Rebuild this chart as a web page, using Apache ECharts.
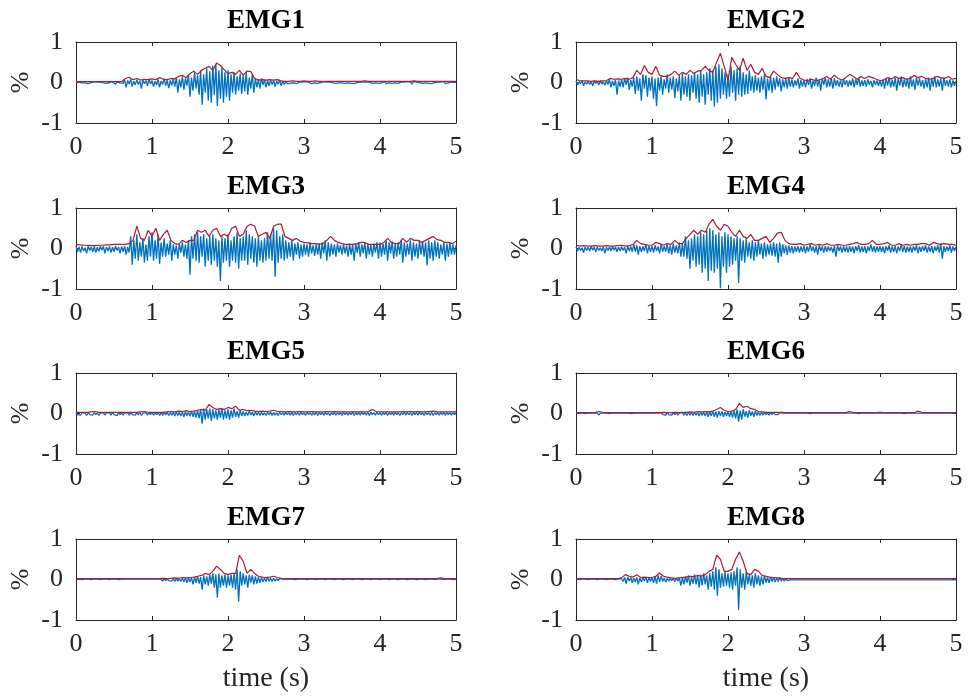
<!DOCTYPE html>
<html>
<head>
<meta charset="utf-8">
<script src="https://cdn.jsdelivr.net/npm/echarts@6/dist/echarts.min.js"></script>
<style>
html, body { margin: 0; padding: 0; background: #ffffff; }
#chart { width: 968px; height: 698px; }
</style>
</head>
<body>
<div id="chart"></div>
<script>
// Eight EMG channels, 0–5 s. Raw signal sampled every 0.02 s, envelope every 0.05 s.
const channelNames = ['EMG1', 'EMG2', 'EMG3', 'EMG4', 'EMG5', 'EMG6', 'EMG7', 'EMG8'];
const rawStep = 0.02;
const envStep = 0.05;
const xTicks = [0, 1, 2, 3, 4, 5];
const yTicks = [-1, 0, 1];

const emg1Raw = [
  0.01,-0.02,0.01,0.00,-0.01,0.02,-0.01,0.01,-0.03,0.01,
  0.00,-0.01,0.02,-0.01,0.01,-0.02,0.01,0.00,-0.01,0.01,
  -0.02,0.01,0.00,-0.01,0.02,-0.01,-0.04,0.01,0.00,-0.01,
  0.01,-0.02,0.06,-0.12,0.05,-0.04,0.08,-0.1,0.03,-0.06,
  0.07,-0.05,0.04,-0.15,0.06,-0.03,0.05,-0.08,0.09,-0.04,
  0.05,-0.1,0.03,-0.06,0.08,-0.12,0.04,-0.05,0.1,-0.08,
  0.06,-0.14,0.05,-0.07,0.09,-0.1,0.12,-0.25,0.08,-0.12,
  0.15,-0.18,0.1,-0.08,0.2,-0.35,0.12,-0.2,0.25,-0.15,
  0.18,-0.3,0.3,-0.55,0.2,-0.25,0.35,-0.45,0.28,-0.5,
  0.42,-0.3,0.45,-0.58,0.3,-0.4,0.38,-0.5,0.25,-0.35,
  0.3,-0.45,0.2,-0.25,0.25,-0.3,0.15,-0.2,0.22,-0.28,
  0.18,-0.22,0.25,-0.3,0.12,-0.15,0.2,-0.25,0.1,-0.12,
  0.08,-0.15,0.1,-0.06,0.07,-0.12,0.05,-0.08,0.06,-0.05,
  0.05,-0.1,0.04,-0.04,0.06,-0.08,0.03,-0.05,0.02,-0.03,
  0.01,-0.02,0.02,-0.01,0.01,-0.03,0.00,0.01,-0.02,0.01,
  -0.01,0.02,-0.02,0.01,0.00,-0.03,0.01,-0.01,0.01,-0.02,
  0.01,0.00,-0.01,0.02,-0.02,0.01,-0.03,0.01,0.00,-0.01,
  0.01,-0.02,0.01,-0.01,0.02,-0.01,0.00,-0.02,0.01,-0.01,
  0.02,-0.02,0.01,-0.03,0.01,0.00,-0.01,0.01,-0.02,0.01,
  -0.01,0.01,-0.03,0.01,0.00,-0.02,0.02,-0.01,0.01,-0.02,
  0.01,-0.01,0.00,0.02,-0.03,0.01,-0.01,0.01,-0.02,0.01,
  -0.01,0.01,-0.02,0.00,0.01,-0.03,0.01,-0.01,0.02,-0.01,
  0.01,-0.04,0.02,-0.01,0.01,-0.02,0.00,0.01,-0.02,0.01,
  -0.01,0.02,-0.02,0.01,-0.03,0.01,0.00,-0.01,0.01,-0.02,
  0.01,-0.01,0.02,-0.03,0.01,-0.01,0.00,0.01,-0.02,0.01,
  0.00
];
const emg1Env = [
  0.02,0.02,0.02,0.02,0.02,0.02,0.02,0.02,0.02,0.02,0.02,0.02,0.02,0.1,0.13,0.07,0.1,0.06,0.08,0.07,
  0.09,0.07,0.12,0.08,0.07,0.1,0.09,0.15,0.18,0.12,0.22,0.28,0.2,0.3,0.35,0.4,0.3,0.48,0.42,0.32,
  0.22,0.25,0.2,0.3,0.18,0.28,0.27,0.1,0.06,0.07,0.06,0.07,0.06,0.07,0.04,0.03,0.03,0.04,0.03,0.03,
  0.04,0.03,0.03,0.04,0.03,0.03,0.03,0.03,0.03,0.03,0.03,0.03,0.03,0.03,0.03,0.03,0.04,0.03,0.03,0.03,
  0.03,0.03,0.03,0.03,0.03,0.03,0.03,0.03,0.03,0.04,0.03,0.03,0.03,0.03,0.03,0.03,0.03,0.03,0.03,0.03,0.03
];

const emg2Raw = [
  0.04,-0.06,0.02,-0.03,0.05,-0.08,0.01,-0.04,0.03,-0.05,
  0.02,-0.08,0.04,-0.02,0.03,-0.06,0.05,-0.04,0.02,-0.07,
  0.05,-0.05,0.08,-0.12,0.04,-0.08,0.06,-0.3,0.05,-0.1,
  0.08,-0.12,0.1,-0.06,0.12,-0.18,0.06,-0.1,0.12,-0.28,
  0.15,-0.2,0.1,-0.45,0.2,-0.15,0.18,-0.35,0.12,-0.2,
  0.15,-0.4,0.1,-0.58,0.12,-0.2,0.15,-0.3,0.08,-0.15,
  0.2,-0.25,0.12,-0.18,0.15,-0.38,0.1,-0.22,0.18,-0.45,
  0.22,-0.3,0.15,-0.35,0.2,-0.45,0.18,-0.25,0.25,-0.4,
  0.2,-0.5,0.3,-0.35,0.2,-0.55,0.25,-0.3,0.35,-0.45,
  0.3,-0.6,0.4,-0.5,0.45,-0.4,0.35,-0.3,0.25,-0.4,
  0.2,-0.35,0.4,-0.25,0.3,-0.45,0.35,-0.3,0.4,-0.35,
  0.25,-0.3,0.2,-0.28,0.3,-0.2,0.15,-0.25,0.18,-0.2,
  0.12,-0.25,0.15,-0.18,0.2,-0.42,0.1,-0.2,0.15,-0.25,
  0.12,-0.18,0.15,-0.1,0.1,-0.22,0.08,-0.12,0.1,-0.15,
  0.12,-0.1,0.08,-0.12,0.05,-0.08,0.1,-0.15,0.06,-0.1,
  0.06,-0.12,0.08,-0.06,0.1,-0.15,0.05,-0.08,0.12,-0.1,
  0.08,-0.2,0.1,-0.06,0.12,-0.12,0.08,-0.1,0.1,-0.15,
  0.1,-0.08,0.06,-0.1,0.05,-0.12,0.08,-0.06,0.06,-0.1,
  0.05,-0.08,0.1,-0.12,0.08,-0.06,0.12,-0.1,0.05,-0.08,
  0.06,-0.1,0.08,-0.05,0.04,-0.12,0.06,-0.06,0.05,-0.08,
  0.05,-0.1,0.08,-0.15,0.1,-0.08,0.12,-0.12,0.06,-0.1,
  0.12,-0.2,0.1,-0.08,0.15,-0.12,0.08,-0.1,0.1,-0.15,
  0.15,-0.1,0.08,-0.18,0.12,-0.08,0.1,-0.1,0.06,-0.15,
  0.08,-0.12,0.12,-0.2,0.1,-0.1,0.15,-0.12,0.08,-0.1,
  0.1,-0.2,0.12,-0.08,0.06,-0.1,0.08,-0.12,0.05,-0.08,
  0.04
];
const emg2Env = [
  0.07,0.05,0.04,0.04,0.03,0.04,0.03,0.04,0.05,0.1,0.08,0.09,0.08,0.1,0.08,0.12,0.3,0.2,0.42,0.25,
  0.2,0.4,0.18,0.15,0.15,0.2,0.28,0.18,0.25,0.2,0.3,0.22,0.28,0.3,0.4,0.3,0.25,0.5,0.72,0.4,
  0.05,0.62,0.45,0.3,0.6,0.3,0.45,0.25,0.2,0.35,0.15,0.12,0.28,0.2,0.12,0.1,0.12,0.1,0.25,0.1,
  0.06,0.05,0.08,0.05,0.06,0.1,0.15,0.08,0.18,0.1,0.06,0.12,0.2,0.15,0.08,0.15,0.1,0.15,0.12,0.08,
  0.05,0.06,0.12,0.08,0.15,0.1,0.12,0.08,0.1,0.18,0.12,0.15,0.1,0.08,0.1,0.15,0.12,0.1,0.15,0.08,0.1
];

const emg3Raw = [
  0.06,-0.08,0.04,-0.1,0.05,-0.06,0.02,-0.12,0.06,-0.05,
  0.04,-0.08,0.05,-0.1,0.03,-0.07,0.06,-0.04,0.05,-0.12,
  0.04,-0.06,0.05,-0.1,0.03,-0.08,0.06,-0.05,0.04,-0.12,
  0.05,-0.08,0.06,-0.15,0.04,-0.1,0.3,-0.4,0.2,-0.25,
  0.35,-0.3,0.15,-0.2,0.25,-0.35,0.1,-0.3,0.3,-0.2,
  0.4,-0.3,0.2,-0.25,0.35,-0.38,0.15,-0.2,0.25,-0.2,
  0.12,-0.15,0.2,-0.3,0.1,-0.15,0.08,-0.25,0.12,-0.1,
  0.15,-0.2,0.1,-0.25,0.2,-0.65,0.3,-0.25,0.35,-0.3,
  0.4,-0.35,0.3,-0.2,0.35,-0.45,0.25,-0.3,0.3,-0.4,
  0.35,-0.3,0.25,-0.45,0.2,-0.8,0.3,-0.35,0.25,-0.3,
  0.35,-0.45,0.2,-0.3,0.3,-0.35,0.4,-0.5,0.25,-0.3,
  0.3,-0.3,0.45,-0.4,0.35,-0.25,0.3,-0.35,0.25,-0.45,
  0.3,-0.3,0.2,-0.35,0.25,-0.3,0.4,-0.25,0.35,-0.3,
  0.5,-0.7,0.45,-0.35,0.3,-0.25,0.35,-0.3,0.2,-0.25,
  0.15,-0.2,0.2,-0.3,0.12,-0.15,0.15,-0.25,0.1,-0.2,
  0.12,-0.15,0.1,-0.2,0.15,-0.12,0.08,-0.18,0.1,-0.15,
  0.12,-0.25,0.15,-0.12,0.2,-0.3,0.15,-0.2,0.12,-0.15,
  0.1,-0.2,0.12,-0.1,0.08,-0.15,0.1,-0.12,0.08,-0.2,
  0.12,-0.15,0.1,-0.3,0.12,-0.1,0.15,-0.2,0.1,-0.12,
  0.15,-0.25,0.12,-0.15,0.1,-0.2,0.12,-0.1,0.15,-0.25,
  0.15,-0.2,0.12,-0.15,0.2,-0.3,0.15,-0.12,0.18,-0.25,
  0.12,-0.2,0.15,-0.15,0.2,-0.35,0.15,-0.2,0.12,-0.15,
  0.2,-0.3,0.15,-0.2,0.12,-0.25,0.2,-0.15,0.18,-0.2,
  0.15,-0.42,0.2,-0.25,0.15,-0.3,0.2,-0.2,0.15,-0.25,
  0.1,-0.15,0.15,-0.3,0.12,-0.2,0.15,-0.15,0.1,-0.15,
  0.08
];
const emg3Env = [
  0.1,0.09,0.08,0.08,0.07,0.07,0.08,0.08,0.09,0.09,0.1,0.1,0.1,0.1,0.12,0.2,0.55,0.25,0.2,0.45,
  0.3,0.5,0.2,0.35,0.45,0.2,0.12,0.1,0.2,0.15,0.2,0.2,0.45,0.4,0.45,0.3,0.45,0.5,0.3,0.35,
  0.3,0.5,0.55,0.3,0.35,0.55,0.6,0.55,0.3,0.35,0.4,0.25,0.55,0.6,0.6,0.3,0.25,0.2,0.25,0.18,
  0.15,0.14,0.12,0.12,0.1,0.12,0.2,0.3,0.2,0.15,0.12,0.1,0.1,0.1,0.12,0.15,0.15,0.1,0.1,0.1,
  0.1,0.15,0.25,0.15,0.12,0.12,0.25,0.15,0.25,0.2,0.2,0.15,0.2,0.25,0.3,0.22,0.2,0.15,0.15,0.12,0.18
];

const emg4Raw = [
  0.04,-0.06,0.03,-0.05,0.02,-0.1,0.04,-0.05,0.03,-0.06,
  0.05,-0.04,0.03,-0.08,0.04,-0.05,0.02,-0.06,0.04,-0.12,
  0.03,-0.05,0.04,-0.06,0.05,-0.04,0.03,-0.08,0.04,-0.06,
  0.05,-0.05,0.03,-0.12,0.06,-0.06,0.05,-0.08,0.1,-0.08,
  0.08,-0.15,0.06,-0.08,0.05,-0.06,0.1,-0.12,0.06,-0.08,
  0.06,-0.1,0.08,-0.06,0.05,-0.12,0.1,-0.08,0.06,-0.08,
  0.1,-0.12,0.08,-0.15,0.12,-0.1,0.08,-0.12,0.15,-0.2,
  0.12,-0.2,0.3,-0.25,0.2,-0.5,0.25,-0.3,0.35,-0.45,
  0.3,-0.4,0.4,-0.6,0.35,-0.5,0.45,-0.8,0.5,-0.55,
  0.45,-0.6,0.35,-0.5,0.4,-0.98,0.3,-0.45,0.4,-0.6,
  0.35,-0.45,0.3,-0.4,0.25,-0.3,0.3,-0.85,0.25,-0.3,
  0.2,-0.35,0.25,-0.2,0.15,-0.25,0.2,-0.3,0.15,-0.2,
  0.2,-0.15,0.12,-0.25,0.15,-0.2,0.1,-0.15,0.12,-0.18,
  0.15,-0.2,0.12,-0.35,0.15,-0.2,0.1,-0.12,0.08,-0.15,
  0.08,-0.1,0.06,-0.12,0.05,-0.08,0.06,-0.1,0.05,-0.08,
  0.06,-0.12,0.05,-0.08,0.1,-0.06,0.05,-0.1,0.06,-0.15,
  0.08,-0.06,0.05,-0.1,0.06,-0.08,0.05,-0.06,0.04,-0.1,
  0.06,-0.2,0.08,-0.06,0.05,-0.1,0.06,-0.08,0.05,-0.1,
  0.06,-0.08,0.05,-0.12,0.06,-0.06,0.08,-0.1,0.05,-0.08,
  0.06,-0.12,0.05,-0.06,0.1,-0.08,0.06,-0.1,0.05,-0.08,
  0.06,-0.08,0.05,-0.12,0.06,-0.06,0.08,-0.1,0.05,-0.08,
  0.06,-0.12,0.05,-0.06,0.1,-0.08,0.06,-0.1,0.05,-0.08,
  0.05,-0.1,0.06,-0.06,0.08,-0.12,0.05,-0.08,0.06,-0.06,
  0.08,-0.1,0.05,-0.08,0.06,-0.12,0.05,-0.06,0.08,-0.1,
  0.12,-0.25,0.06,-0.08,0.05,-0.06,0.08,-0.1,0.05,-0.06,
  0.04
];
const emg4Env = [
  0.08,0.06,0.07,0.06,0.06,0.07,0.06,0.06,0.07,0.06,0.06,0.07,0.08,0.06,0.07,0.1,0.2,0.12,0.1,0.08,
  0.08,0.15,0.12,0.08,0.12,0.1,0.2,0.12,0.12,0.25,0.35,0.45,0.35,0.45,0.4,0.6,0.72,0.55,0.45,0.6,
  0.55,0.4,0.3,0.45,0.3,0.25,0.35,0.2,0.2,0.25,0.3,0.15,0.25,0.38,0.4,0.2,0.12,0.1,0.1,0.12,
  0.08,0.1,0.12,0.08,0.1,0.08,0.12,0.08,0.08,0.1,0.08,0.08,0.1,0.12,0.15,0.1,0.1,0.12,0.2,0.1,
  0.1,0.12,0.15,0.08,0.08,0.12,0.08,0.1,0.08,0.1,0.1,0.12,0.12,0.08,0.15,0.12,0.1,0.12,0.1,0.1,0.08
];

const emg5Raw = [
  0.02,-0.03,0.01,-0.04,0.02,-0.02,0.01,-0.05,0.02,-0.03,
  0.01,-0.04,0.02,-0.03,0.02,-0.05,0.01,-0.03,0.02,-0.04,
  0.01,-0.03,0.02,-0.04,0.02,-0.03,0.01,-0.05,0.02,-0.03,
  0.02,-0.04,0.01,-0.03,0.02,-0.04,0.02,-0.03,0.01,-0.04,
  0.02,-0.03,0.02,-0.05,0.01,-0.03,0.02,-0.04,0.02,-0.03,
  0.02,-0.04,0.02,-0.03,0.03,-0.05,0.02,-0.04,0.02,-0.03,
  0.03,-0.05,0.02,-0.04,0.03,-0.06,0.04,-0.05,0.03,-0.06,
  0.04,-0.08,0.05,-0.06,0.04,-0.07,0.06,-0.08,0.05,-0.1,
  0.08,-0.12,0.1,-0.25,0.12,-0.15,0.1,-0.12,0.12,-0.18,
  0.1,-0.12,0.08,-0.15,0.1,-0.1,0.12,-0.15,0.08,-0.12,
  0.1,-0.15,0.08,-0.1,0.12,-0.08,0.06,-0.1,0.08,-0.06,
  0.05,-0.06,0.04,-0.05,0.06,-0.04,0.03,-0.06,0.05,-0.04,
  0.03,-0.05,0.04,-0.04,0.02,-0.05,0.03,-0.03,0.04,-0.05,
  0.03,-0.04,0.02,-0.05,0.03,-0.03,0.02,-0.04,0.03,-0.03,
  0.02,-0.04,0.03,-0.05,0.02,-0.03,0.02,-0.04,0.03,-0.03,
  0.02,-0.05,0.03,-0.03,0.02,-0.04,0.02,-0.03,0.03,-0.05,
  0.02,-0.03,0.02,-0.04,0.03,-0.03,0.02,-0.05,0.02,-0.03,
  0.03,-0.04,0.02,-0.03,0.02,-0.05,0.03,-0.03,0.02,-0.04,
  0.02,-0.03,0.03,-0.05,0.02,-0.03,0.02,-0.04,0.03,-0.03,
  0.02,-0.04,0.03,-0.05,0.04,-0.03,0.02,-0.04,0.03,-0.03,
  0.02,-0.04,0.02,-0.03,0.03,-0.05,0.02,-0.03,0.02,-0.04,
  0.03,-0.03,0.02,-0.05,0.02,-0.03,0.03,-0.04,0.02,-0.03,
  0.02,-0.05,0.03,-0.03,0.02,-0.04,0.03,-0.03,0.02,-0.05,
  0.03,-0.03,0.02,-0.04,0.03,-0.05,0.02,-0.03,0.02,-0.04,
  0.02,-0.03,0.03,-0.04,0.02,-0.03,0.02,-0.04,0.02,-0.03,
  0.02
];
const emg5Env = [
  0.03,0.03,0.03,0.03,0.04,0.05,0.03,0.03,0.03,0.03,0.03,0.03,0.03,0.03,0.03,0.03,0.03,0.04,0.05,0.03,
  0.03,0.03,0.03,0.03,0.04,0.05,0.04,0.06,0.05,0.07,0.05,0.06,0.08,0.1,0.08,0.22,0.15,0.1,0.12,0.1,
  0.15,0.12,0.18,0.08,0.1,0.07,0.08,0.06,0.05,0.06,0.05,0.06,0.08,0.05,0.05,0.04,0.05,0.04,0.04,0.05,
  0.04,0.04,0.05,0.04,0.04,0.04,0.05,0.04,0.05,0.04,0.04,0.04,0.04,0.04,0.04,0.04,0.04,0.05,0.1,0.05,
  0.04,0.04,0.04,0.04,0.04,0.04,0.05,0.04,0.05,0.04,0.05,0.04,0.04,0.05,0.06,0.04,0.04,0.04,0.04,0.04,0.04
];

const emg6Raw = [
  0.01,-0.02,0.01,-0.03,0.01,-0.02,0.00,-0.03,0.01,-0.02,
  0.01,-0.03,0.01,-0.02,0.01,-0.04,0.01,-0.02,0.01,-0.03,
  0.01,-0.02,0.00,-0.03,0.01,-0.02,0.01,-0.03,0.01,-0.02,
  0.01,-0.03,0.01,-0.02,0.01,-0.03,0.00,-0.02,0.01,-0.03,
  0.01,-0.02,0.01,-0.03,0.01,-0.02,0.01,-0.03,0.01,-0.02,
  0.01,-0.03,0.01,-0.02,0.01,-0.03,0.02,-0.03,0.01,-0.04,
  0.02,-0.03,0.01,-0.04,0.02,-0.03,0.02,-0.04,0.01,-0.03,
  0.02,-0.04,0.02,-0.05,0.03,-0.04,0.02,-0.05,0.03,-0.04,
  0.03,-0.06,0.04,-0.05,0.03,-0.06,0.04,-0.08,0.05,-0.06,
  0.06,-0.08,0.05,-0.1,0.06,-0.06,0.05,-0.08,0.04,-0.06,
  0.05,-0.08,0.06,-0.1,0.08,-0.12,0.1,-0.2,0.08,-0.15,
  0.1,-0.08,0.06,-0.1,0.08,-0.06,0.05,-0.08,0.06,-0.05,
  0.04,-0.05,0.03,-0.04,0.03,-0.03,0.02,-0.04,0.02,-0.03,
  0.02,-0.03,0.01,-0.03,0.02,-0.02,0.01,-0.03,0.01,-0.02,
  0.01,-0.03,0.01,-0.02,0.01,-0.03,0.01,-0.02,0.01,-0.03,
  0.01,-0.02,0.01,-0.03,0.00,-0.02,0.01,-0.03,0.01,-0.02,
  0.01,-0.03,0.01,-0.02,0.01,-0.03,0.01,-0.02,0.01,-0.03,
  0.01,-0.02,0.01,-0.03,0.01,-0.02,0.01,-0.03,0.01,-0.02,
  0.01,-0.03,0.01,-0.02,0.01,-0.03,0.00,-0.02,0.01,-0.03,
  0.01,-0.02,0.01,-0.03,0.01,-0.02,0.01,-0.03,0.01,-0.02,
  0.01,-0.03,0.01,-0.02,0.01,-0.03,0.01,-0.02,0.01,-0.03,
  0.01,-0.02,0.01,-0.03,0.01,-0.02,0.00,-0.03,0.01,-0.02,
  0.01,-0.03,0.01,-0.02,0.01,-0.03,0.01,-0.02,0.01,-0.03,
  0.01,-0.02,0.01,-0.03,0.01,-0.02,0.01,-0.03,0.01,-0.02,
  0.01,-0.03,0.01,-0.02,0.01,-0.03,0.01,-0.02,0.01,-0.02,
  0.01
];
const emg6Env = [
  0.02,0.02,0.02,0.02,0.02,0.02,0.05,0.03,0.02,0.02,0.02,0.02,0.02,0.02,0.02,0.02,0.02,0.02,0.02,0.02,
  0.02,0.02,0.02,0.03,0.02,0.02,0.03,0.02,0.03,0.03,0.04,0.03,0.05,0.04,0.05,0.04,0.06,0.1,0.15,0.08,
  0.05,0.06,0.1,0.25,0.15,0.18,0.12,0.1,0.05,0.04,0.03,0.03,0.03,0.03,0.03,0.02,0.02,0.02,0.02,0.02,
  0.02,0.02,0.02,0.02,0.02,0.02,0.02,0.02,0.02,0.02,0.02,0.02,0.05,0.02,0.02,0.02,0.02,0.02,0.02,0.02,
  0.03,0.02,0.02,0.02,0.02,0.02,0.02,0.02,0.02,0.02,0.06,0.03,0.02,0.02,0.02,0.02,0.02,0.02,0.02,0.02,0.02
];

const emg7Raw = [
  0.01,-0.01,0.01,-0.01,0.00,-0.01,0.01,-0.01,0.01,-0.01,
  0.00,-0.01,0.01,-0.01,0.01,-0.01,0.00,-0.01,0.01,-0.02,
  0.01,-0.01,0.00,-0.02,0.01,-0.01,0.01,-0.02,0.00,-0.01,
  0.01,-0.03,0.01,-0.01,0.01,-0.02,0.01,-0.03,0.01,-0.02,
  0.01,-0.02,0.01,-0.03,0.01,-0.02,0.01,-0.03,0.01,-0.02,
  0.01,-0.03,0.01,-0.02,0.01,-0.02,0.01,-0.04,0.02,-0.03,
  0.02,-0.03,0.01,-0.04,0.02,-0.05,0.03,-0.04,0.02,-0.05,
  0.03,-0.06,0.04,-0.08,0.05,-0.06,0.04,-0.12,0.06,-0.08,
  0.08,-0.1,0.06,-0.25,0.1,-0.12,0.08,-0.15,0.12,-0.1,
  0.15,-0.2,0.12,-0.45,0.15,-0.2,0.1,-0.15,0.12,-0.2,
  0.1,-0.15,0.12,-0.2,0.15,-0.25,0.25,-0.55,0.2,-0.15,
  0.15,-0.12,0.1,-0.2,0.12,-0.08,0.1,-0.12,0.08,-0.1,
  0.06,-0.08,0.05,-0.06,0.04,-0.05,0.06,-0.04,0.03,-0.05,
  0.03,-0.04,0.02,-0.03,0.02,-0.02,0.01,-0.02,0.01,-0.01,
  0.01,-0.02,0.01,-0.01,0.00,-0.01,0.01,-0.02,0.01,-0.01,
  0.01,-0.01,0.00,-0.02,0.01,-0.01,0.01,-0.01,0.00,-0.02,
  0.01,-0.01,0.01,-0.02,0.00,-0.01,0.01,-0.01,0.01,-0.02,
  0.00,-0.01,0.01,-0.01,0.01,-0.02,0.00,-0.01,0.01,-0.01,
  0.01,-0.02,0.00,-0.01,0.01,-0.01,0.01,-0.02,0.00,-0.01,
  0.01,-0.01,0.01,-0.02,0.00,-0.01,0.01,-0.01,0.01,-0.02,
  0.00,-0.01,0.01,-0.01,0.01,-0.02,0.00,-0.01,0.01,-0.01,
  0.01,-0.02,0.00,-0.01,0.01,-0.01,0.01,-0.02,0.00,-0.01,
  0.01,-0.01,0.01,-0.02,0.00,-0.01,0.01,-0.01,0.01,-0.02,
  0.00,-0.01,0.01,-0.01,0.01,-0.02,0.00,-0.01,0.01,-0.01,
  0.01,-0.02,0.00,-0.01,0.01,-0.01,0.01,-0.02,0.00,-0.01,
  0.01
];
const emg7Env = [
  0.02,0.02,0.02,0.02,0.02,0.02,0.02,0.02,0.02,0.02,0.02,0.02,0.02,0.02,0.02,0.02,0.02,0.02,0.02,0.02,
  0.02,0.02,0.02,0.03,0.02,0.03,0.04,0.03,0.05,0.04,0.05,0.06,0.08,0.1,0.15,0.12,0.2,0.33,0.25,0.15,
  0.12,0.15,0.15,0.6,0.45,0.15,0.25,0.15,0.08,0.06,0.05,0.06,0.08,0.05,0.03,0.02,0.02,0.02,0.02,0.02,
  0.02,0.02,0.02,0.02,0.02,0.02,0.02,0.02,0.02,0.02,0.02,0.02,0.02,0.02,0.02,0.02,0.02,0.02,0.02,0.02,
  0.02,0.02,0.02,0.02,0.02,0.02,0.02,0.02,0.02,0.02,0.02,0.02,0.02,0.02,0.02,0.02,0.04,0.02,0.02,0.02,0.02
];

const emg8Raw = [
  0.01,-0.01,0.00,-0.01,0.01,-0.01,0.01,-0.01,0.00,-0.01,
  0.01,-0.01,0.01,-0.01,0.00,-0.01,0.01,-0.01,0.01,-0.01,
  0.00,-0.01,0.01,-0.01,0.01,-0.01,0.00,-0.01,0.01,-0.02,
  0.02,-0.05,0.05,-0.1,0.06,-0.04,0.05,-0.08,0.04,-0.06,
  0.05,-0.12,0.04,-0.06,0.05,-0.04,0.06,-0.08,0.05,-0.05,
  0.06,-0.08,0.08,-0.1,0.1,-0.06,0.08,-0.05,0.04,-0.06,
  0.03,-0.04,0.03,-0.03,0.02,-0.05,0.03,-0.04,0.04,-0.15,
  0.06,-0.12,0.08,-0.08,0.1,-0.15,0.06,-0.1,0.12,-0.12,
  0.1,-0.2,0.12,-0.15,0.15,-0.12,0.1,-0.25,0.15,-0.18,
  0.2,-0.25,0.3,-0.4,0.25,-0.2,0.15,-0.18,0.2,-0.15,
  0.15,-0.2,0.18,-0.25,0.2,-0.15,0.3,-0.75,0.25,-0.2,
  0.15,-0.25,0.2,-0.12,0.12,-0.15,0.1,-0.2,0.15,-0.12,
  0.1,-0.15,0.08,-0.12,0.1,-0.08,0.05,-0.08,0.06,-0.05,
  0.05,-0.06,0.04,-0.05,0.05,-0.04,0.03,-0.04,0.02,-0.03,
  0.01,-0.01,0.00,-0.01,0.01,-0.01,0.00,-0.01,0.01,-0.01,
  0.00,-0.01,0.01,-0.01,0.01,-0.01,0.00,-0.01,0.01,-0.01,
  0.01,-0.01,0.00,-0.01,0.01,-0.01,0.01,-0.01,0.00,-0.01,
  0.01,-0.01,0.01,-0.01,0.00,-0.01,0.01,-0.01,0.01,-0.01,
  0.00,-0.01,0.01,-0.01,0.01,-0.01,0.00,-0.01,0.01,-0.01,
  0.01,-0.01,0.00,-0.01,0.01,-0.01,0.01,-0.01,0.00,-0.01,
  0.01,-0.01,0.01,-0.01,0.00,-0.01,0.01,-0.01,0.01,-0.01,
  0.00,-0.01,0.01,-0.01,0.01,-0.01,0.00,-0.01,0.01,-0.01,
  0.01,-0.01,0.00,-0.01,0.01,-0.01,0.01,-0.01,0.00,-0.01,
  0.01,-0.01,0.01,-0.01,0.00,-0.01,0.01,-0.01,0.01,-0.01,
  0.00,-0.01,0.01,-0.01,0.01,-0.01,0.00,-0.01,0.01,-0.01,
  0.00
];
const emg8Env = [
  0.02,0.02,0.02,0.02,0.02,0.02,0.02,0.02,0.02,0.02,0.02,0.02,0.04,0.12,0.08,0.06,0.12,0.05,0.06,0.05,
  0.05,0.08,0.16,0.08,0.06,0.04,0.03,0.04,0.05,0.06,0.08,0.07,0.1,0.08,0.12,0.2,0.25,0.6,0.5,0.2,
  0.2,0.25,0.5,0.68,0.45,0.15,0.12,0.25,0.2,0.1,0.08,0.06,0.05,0.04,0.03,0.02,0.02,0.02,0.02,0.02,
  0.02,0.02,0.02,0.02,0.02,0.02,0.02,0.02,0.02,0.02,0.02,0.02,0.02,0.02,0.02,0.02,0.02,0.02,0.02,0.02,
  0.02,0.02,0.02,0.02,0.02,0.02,0.02,0.02,0.02,0.02,0.02,0.02,0.02,0.02,0.02,0.02,0.02,0.02,0.02,0.02,0.02
];

const rawSignals = [emg1Raw, emg2Raw, emg3Raw, emg4Raw, emg5Raw, emg6Raw, emg7Raw, emg8Raw];
const envelopes = [emg1Env, emg2Env, emg3Env, emg4Env, emg5Env, emg6Env, emg7Env, emg8Env];

// Panel layout (pixels)
const colLeft = [76, 576];
const rowTop = [42, 208, 373, 539];
const panelW = 380;
const panelH = 81;

const FONT = '"Liberation Serif", "Times New Roman", serif';
const INK = '#262626';
const RAW_COLOR = '#0072BD';
const ENV_COLOR = '#A81C36';

function toPairs(values, step) {
  return values.map((v, i) => [Math.round(i * step * 100) / 100, v]);
}

const grids = [], xAxes = [], yAxes = [], series = [], titles = [];

channelNames.forEach((name, k) => {
  const col = k % 2, row = Math.floor(k / 2);
  const left = colLeft[col], top = rowTop[row];
  grids.push({ left: left, top: top, width: panelW, height: panelH, containLabel: false });

  titles.push({
    text: name,
    left: left + panelW / 2,
    top: top - 34,
    textAlign: 'center',
    padding: 0,
    textStyle: { fontFamily: FONT, fontWeight: 'bold', fontSize: 27, color: '#000' }
  });

  const tickStyle = { show: true, inside: true, length: 4, lineStyle: { color: INK, width: 1 } };
  const lineStyle = { show: true, onZero: false, lineStyle: { color: INK, width: 1 } };

  // bottom x axis with labels
  xAxes.push({
    gridIndex: k, type: 'value', position: 'bottom', min: xTicks[0], max: xTicks[xTicks.length - 1], interval: 1,
    axisLine: lineStyle, axisTick: tickStyle, splitLine: { show: false },
    axisLabel: { show: true, fontFamily: FONT, fontSize: 26, color: INK, margin: 11 },
    name: row === 3 ? 'time (s)' : '', nameLocation: 'middle', nameGap: 45,
    nameTextStyle: { fontFamily: FONT, fontSize: 28, color: INK }
  });
  // top x axis, ticks only
  xAxes.push({
    gridIndex: k, type: 'value', position: 'top', min: xTicks[0], max: xTicks[xTicks.length - 1], interval: 1,
    axisLine: lineStyle, axisTick: tickStyle, splitLine: { show: false }, axisLabel: { show: false }
  });
  // left y axis with labels
  yAxes.push({
    gridIndex: k, type: 'value', position: 'left', min: yTicks[0], max: yTicks[yTicks.length - 1], interval: 1,
    axisLine: lineStyle, axisTick: tickStyle, splitLine: { show: false },
    axisLabel: { show: true, fontFamily: FONT, fontSize: 26, color: INK, margin: 13 },
    name: '%', nameLocation: 'middle', nameGap: 42, nameRotate: 90,
    nameTextStyle: { fontFamily: FONT, fontSize: 26, color: INK }
  });
  // right y axis, ticks only
  yAxes.push({
    gridIndex: k, type: 'value', position: 'right', min: yTicks[0], max: yTicks[yTicks.length - 1], interval: 1,
    axisLine: lineStyle, axisTick: tickStyle, splitLine: { show: false }, axisLabel: { show: false }
  });

  series.push({
    type: 'line', name: name + ' raw', xAxisIndex: 2 * k, yAxisIndex: 2 * k,
    data: toPairs(rawSignals[k], rawStep), showSymbol: false, symbol: 'none',
    lineStyle: { color: RAW_COLOR, width: 1.3 }, itemStyle: { color: RAW_COLOR }, z: 2
  });
  series.push({
    type: 'line', name: name + ' envelope', xAxisIndex: 2 * k, yAxisIndex: 2 * k,
    data: toPairs(envelopes[k], envStep), showSymbol: false, symbol: 'none',
    lineStyle: { color: ENV_COLOR, width: 1.2 }, itemStyle: { color: ENV_COLOR }, z: 3
  });
});

const chart = echarts.init(document.getElementById('chart'), null, { renderer: 'canvas' });
chart.setOption({
  backgroundColor: '#ffffff',
  animation: false,
  title: titles,
  grid: grids,
  xAxis: xAxes,
  yAxis: yAxes,
  series: series
});
</script>
</body>
</html>
